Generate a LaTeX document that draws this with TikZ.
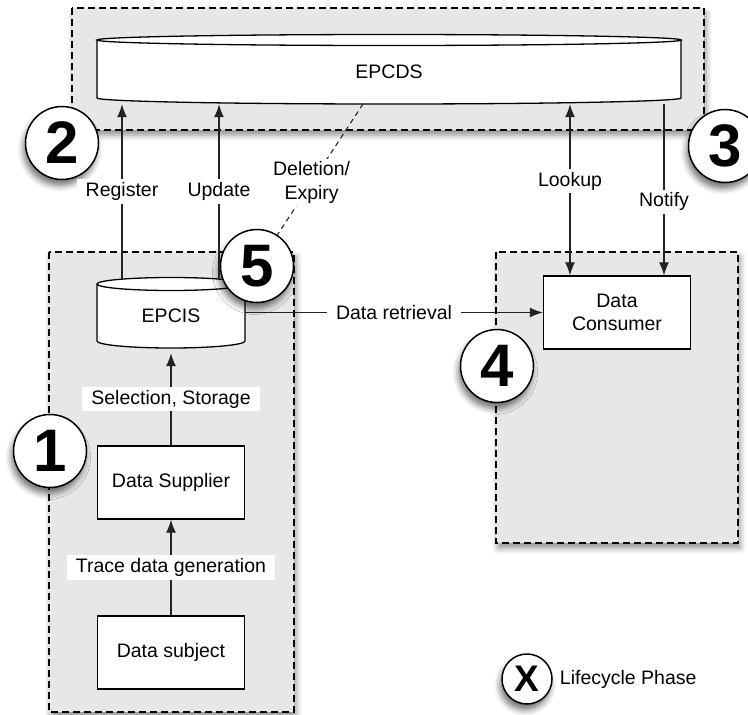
\documentclass[tikz,border=0pt]{standalone}
\usepackage{fontspec}
\setmainfont{Liberation Sans}
\usetikzlibrary{arrows.meta,positioning,shadows.blur}

\definecolor{phasegray}{RGB}{231,231,231}
\definecolor{inkgray}{RGB}{35,35,35}
\newcommand\lbfont{\fontsize{19.5}{23.5}\selectfont}

\tikzset{
   phase/.style={draw=black, fill=phasegray, line width=1.3pt, dash pattern=on 7pt off 4pt,
      blur shadow={shadow xshift=2pt, shadow yshift=-5pt, shadow blur radius=6pt, shadow opacity=45}},
   store/.style={rectangle, inner sep=0pt, font=\lbfont},
   dbline/.style={draw=black, fill=white, line width=1.3pt},
   box/.style={draw, fill=white, line width=1.3pt, minimum width=147pt, minimum height=73pt,
      align=center, font=\lbfont},
   flow/.style={draw=inkgray, line width=1.2pt, -{Latex[length=13pt,width=10pt]}},
   flowboth/.style={draw=inkgray, line width=1.2pt, {Latex[length=13pt,width=10pt]}-{Latex[length=13pt,width=10pt]}},
   expire/.style={draw=inkgray, line width=1.1pt, dash pattern=on 5pt off 4pt},
   lbl/.style={fill=white, inner xsep=9pt, inner ysep=3pt, align=center, font=\lbfont},
   num/.style={circle, draw, fill=white, line width=1.5pt, minimum size=73pt, inner sep=0pt,
      font=\fontsize{60}{60}\selectfont\bfseries,
      blur shadow={shadow xshift=-2pt, shadow yshift=-6pt, shadow blur radius=6pt, shadow opacity=55}},
}

\begin{document}
\begin{tikzpicture}[x=1pt,y=-1pt]
   \useasboundingbox (0,0) rectangle (748,715);

   \draw[phase] (72,8) rectangle (704,130);
   \draw[phase] (49,252) rectangle (294,712);
   \draw[phase] (496,252) rectangle (738,543);

   \filldraw[dbline] (97,40) -- (97,98) arc[start angle=180, end angle=360, x radius=292pt, y radius=6pt] -- (681,40);
   \filldraw[dbline] (389,40) ellipse[x radius=292pt, y radius=5.5pt];
   \path (389,72) node[store, minimum width=584pt, minimum height=64pt] (epcds) {EPCDS};

   \filldraw[dbline] (97,284) -- (97,341) arc[start angle=180, end angle=360, x radius=74pt, y radius=7pt] -- (245,284);
   \filldraw[dbline] (171,284) ellipse[x radius=74pt, y radius=6.5pt];
   \path (171,316) node[store, minimum width=148pt, minimum height=74pt] (epcis) {EPCIS};

   \path (617,312.5) node[box] (consumer) {Data\\Consumer};
   \path (171,482.5) node[box] (supplier) {Data Supplier};
   \path (171,652.5) node[box] (subject) {Data subject};

   \path (50,451) node[num] (phase1) {1};
   \path (62,143) node[num] (phase2) {2};
   \path (725,146) node[num] (phase3) {3};
   \path (497,366) node[num] (phase4) {4};
   \path (257,266) node[num] (phase5) {5};

   \draw[flow] (subject) -- node[lbl] {Trace data generation} (supplier);
   \draw[flow] (supplier) -- node[lbl] {Selection, Storage} (epcis);
   \draw[flow] (consumer.west -| epcis.east) -- node[lbl] {Data retrieval} (consumer.west);
   \draw[flow] ([xshift=-49pt]epcis.north) -- node[lbl] {Register} ([xshift=-49pt]epcis.north |- epcds.south);
   \draw[flow] ([xshift=48pt]epcis.north) -- node[lbl] {Update} ([xshift=48pt]epcis.north |- epcds.south);
   \draw[flowboth] ([xshift=-47pt]consumer.north |- epcds.south) -- node[lbl, pos=0.45] {Lookup} ([xshift=-47pt]consumer.north);
   \draw[flow] ([xshift=47pt]consumer.north |- epcds.south) -- node[lbl, pos=0.57] {Notify} ([xshift=47pt]consumer.north);
   \coordinate (expiry) at (363,104);
   \draw[expire] (expiry) -- node[lbl, pos=0.6] {Deletion/\\Expiry} (phase5);

   \path (527,679) node[num, minimum size=50pt, font=\fontsize{37}{37}\selectfont\bfseries] (legend) {X};
   \node[right=5pt of legend, inner sep=2pt, font=\lbfont] (legendtext) {Lifecycle Phase};
\end{tikzpicture}
\end{document}
